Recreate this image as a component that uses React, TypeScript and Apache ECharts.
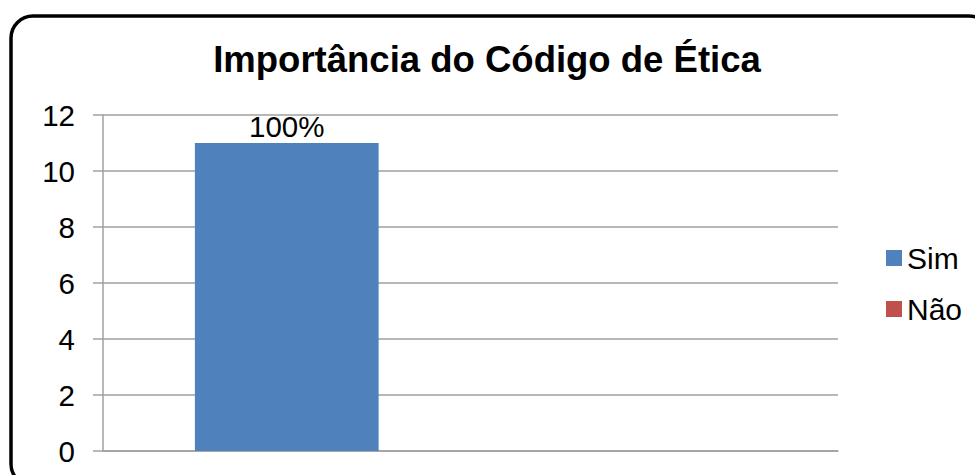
import React, { useEffect, useRef } from "react";
import * as echarts from "echarts";

const titleText = "Importância do Código de Ética";
const categories = ["Sim", "Não"];
const simValues: (number | string)[] = [11, "-"];
const naoValues: (number | string)[] = ["-", 0];
const simLabels = ["100%", ""];
const yTicks = { min: 0, max: 12, interval: 2 };
const colors = { sim: "#4F81BD", nao: "#C0504D" };

const FONT = "'Liberation Sans', Arial, sans-serif";

export default function App() {
  const ref = useRef<HTMLDivElement>(null);
  useEffect(() => {
    if (!ref.current) return;
    const chart = echarts.init(ref.current, undefined, { renderer: "svg" });
    chart.setOption({
      animation: false,
      backgroundColor: "#ffffff",
      title: {
        text: titleText,
        left: 482,
        textAlign: "center",
        top: 36,
        textStyle: { fontFamily: FONT, fontSize: 36.5, fontWeight: "bold", color: "#000" },
      },
      legend: {
        orient: "vertical",
        left: 881,
        top: 238,
        itemWidth: 16,
        itemHeight: 16,
        itemGap: 21,
        icon: "rect",
        data: ["Sim", "Não"],
        textStyle: { fontFamily: FONT, fontSize: 30, color: "#000", lineHeight: 30 },
      },
      grid: { left: 103, right: 137, top: 115, bottom: 24, containLabel: false },
      xAxis: {
        type: "category",
        data: categories,
        axisLine: { show: true, lineStyle: { color: "#a0a0a0", width: 1.5 } },
        axisTick: { show: false },
        axisLabel: { show: false },
      },
      yAxis: {
        type: "value",
        min: yTicks.min,
        max: yTicks.max,
        interval: yTicks.interval,
        axisLine: { show: true, lineStyle: { color: "#a0a0a0", width: 1.5 } },
        axisTick: { show: true, length: 10, lineStyle: { color: "#a0a0a0", width: 1.5 } },
        splitLine: { show: true, lineStyle: { color: "#a0a0a0", width: 1.5 } },
        axisLabel: { fontFamily: FONT, fontSize: 29.5, color: "#000", margin: 28 },
      },
      series: [
        {
          name: "Sim",
          type: "bar",
          stack: "total",
          data: simValues,
          barCategoryGap: "50%",
          itemStyle: { color: colors.sim },
          label: {
            show: true,
            position: "top",
            distance: 2,
            fontFamily: FONT,
            fontSize: 29.5,
            color: "#000",
            formatter: (p: any) => simLabels[p.dataIndex] ?? "",
          },
        },
        {
          name: "Não",
          type: "bar",
          stack: "total",
          data: naoValues,
          barCategoryGap: "50%",
          itemStyle: { color: colors.nao },
        },
      ],
      graphic: [
        {
          type: "rect",
          shape: { x: 11, y: 16, width: 980, height: 470, r: 22 },
          style: { fill: "none", stroke: "#000", lineWidth: 3.5 },
          silent: true,
        },
      ],
    });
    return () => chart.dispose();
  }, []);
  return (
    <div
      ref={ref}
      style={{ position: "fixed", left: 0, top: 0, width: 975, height: 475 }}
    />
  );
}
